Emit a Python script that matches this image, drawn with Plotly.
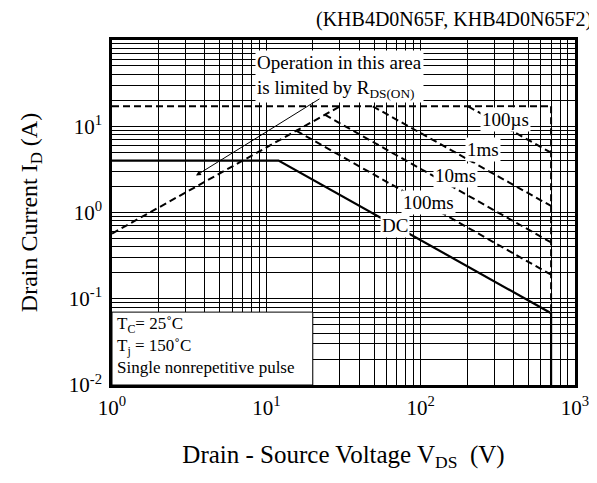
import numpy as np
import plotly.graph_objects as go

# ---- data (V_DS in volts, I_D in amperes) ----
rds_v = [1, 30]
rds_i = [0.57, 17]
top_v = [1, 700]
top_i = [17, 17]
edge_v = [700, 700]
edge_i = [17, 0.068]
us100_v = [203, 700]
us100_i = [17, 4.93]
ms1_v = [49, 700]
ms1_i = [17, 1.19]
ms10_v = [23.9, 700]
ms10_i = [13.6, 0.45]
ms100_v = [15.6, 700]
ms100_i = [8.9, 0.19]
dc_v = [1, 12, 700, 700]
dc_i = [4, 4, 0.068, 0.01]

x_major = [1, 10, 100, 1000]
x_labels = ["10<sup>0</sup>", "10<sup>1</sup>", "10<sup>2</sup>", "10<sup>3</sup>"]
x_minor = [m * 10 ** e for e in range(0, 3) for m in range(2, 10)]
y_major = [0.01, 0.1, 1, 10]
y_labels = ["10<sup>-2</sup>", "10<sup>-1</sup>", "10<sup>0</sup>", "10<sup>1</sup>"]
y_minor = [m * 10 ** e for e in range(-2, 2) for m in range(2, 10)]

FONT = "Liberation Serif"
dash = "7px,4px"

fig = go.Figure()
for vx, iy in [(rds_v, rds_i), (top_v, top_i), (edge_v, edge_i), (us100_v, us100_i),
               (ms1_v, ms1_i), (ms10_v, ms10_i), (ms100_v, ms100_i)]:
    fig.add_trace(go.Scatter(x=vx, y=iy, mode="lines",
                             line=dict(color="black", width=2, dash=dash),
                             showlegend=False, hoverinfo="skip"))
fig.add_trace(go.Scatter(x=dc_v, y=dc_i, mode="lines",
                         line=dict(color="black", width=2.2),
                         showlegend=False, hoverinfo="skip"))

L = np.log10
# white box bottom-left
fig.add_shape(type="rect", xref="x", yref="y", x0=1, x1=20, y0=0.01, y1=0.07,
              fillcolor="white", line=dict(color="black", width=1), layer="between")

def lab(text, x, y, size=19, bg="white", xanchor="center", yanchor="middle", align="center"):
    fig.add_annotation(x=L(x), y=L(y), xref="x", yref="y", text=text, showarrow=False,
                       font=dict(family=FONT, size=size, color="black"), bgcolor=bg,
                       xanchor=xanchor, yanchor=yanchor, align=align, borderpad=1)

lab("100µs", 352, 11.9)
lab("1ms", 254, 5.35)
lab("10ms", 167, 2.68)
lab("100ms", 112, 1.3)
lab("DC", 68, 0.71)
lab("Operation in this area<br>is limited by R<sub>DS(ON)</sub>", 30, 38, size=19, align="left")

lab("T<sub>C</sub>= 25˚C", 1.04, 0.05, size=17, bg="rgba(0,0,0,0)", xanchor="left")
lab("T<sub>j</sub> = 150˚C", 1.04, 0.0275, size=17, bg="rgba(0,0,0,0)", xanchor="left")
lab("Single nonrepetitive pulse", 1.04, 0.0158, size=17, bg="rgba(0,0,0,0)", xanchor="left")

# arrow
fig.add_annotation(x=L(3.5), y=L(2.68), ax=L(22.6), ay=L(21.3), xref="x", yref="y",
                   axref="x", ayref="y", text="", showarrow=True, arrowhead=2,
                   arrowsize=1, arrowwidth=1, arrowcolor="black")

fig.add_annotation(x=1.04, y=1.06, xref="paper", yref="paper",
                   text="(KHB4D0N65F, KHB4D0N65F2)", showarrow=False,
                   font=dict(family=FONT, size=20, color="black"), xanchor="right", yanchor="middle")

grid_minor = dict(showgrid=True, gridcolor="black", gridwidth=1, ticks="")
fig.update_layout(
    width=597, height=483,
    margin=dict(l=104, r=30, t=32, b=106),
    paper_bgcolor="white", plot_bgcolor="white",
    font=dict(family=FONT, size=21, color="black"),
    xaxis=dict(type="log", range=[0, 3], tickmode="array", tickvals=x_major, ticktext=x_labels,
               minor=dict(tickmode="array", tickvals=x_minor, **grid_minor),
               showgrid=True, gridcolor="black", gridwidth=1.2, zeroline=False,
               showline=True, linecolor="black", linewidth=2.5, mirror=True, ticks="",
               ticklabelstandoff=2,
               tickfont=dict(family=FONT, size=21),
               title=dict(text="Drain - Source Voltage V<sub>DS</sub>  (V)", standoff=27,
                          font=dict(family=FONT, size=25))),
    yaxis=dict(type="log", range=[-2, 2], tickmode="array", tickvals=y_major, ticktext=y_labels,
               minor=dict(tickmode="array", tickvals=y_minor, **grid_minor),
               showgrid=True, gridcolor="black", gridwidth=1.2, zeroline=False,
               showline=True, linecolor="black", linewidth=2.5, mirror=True, ticks="",
               ticklabelstandoff=3,
               tickfont=dict(family=FONT, size=21),
               title=dict(text="Drain Current I<sub>D</sub> (A)", standoff=25,
                          font=dict(family=FONT, size=24))),
)

fig.write_html("out.html")
